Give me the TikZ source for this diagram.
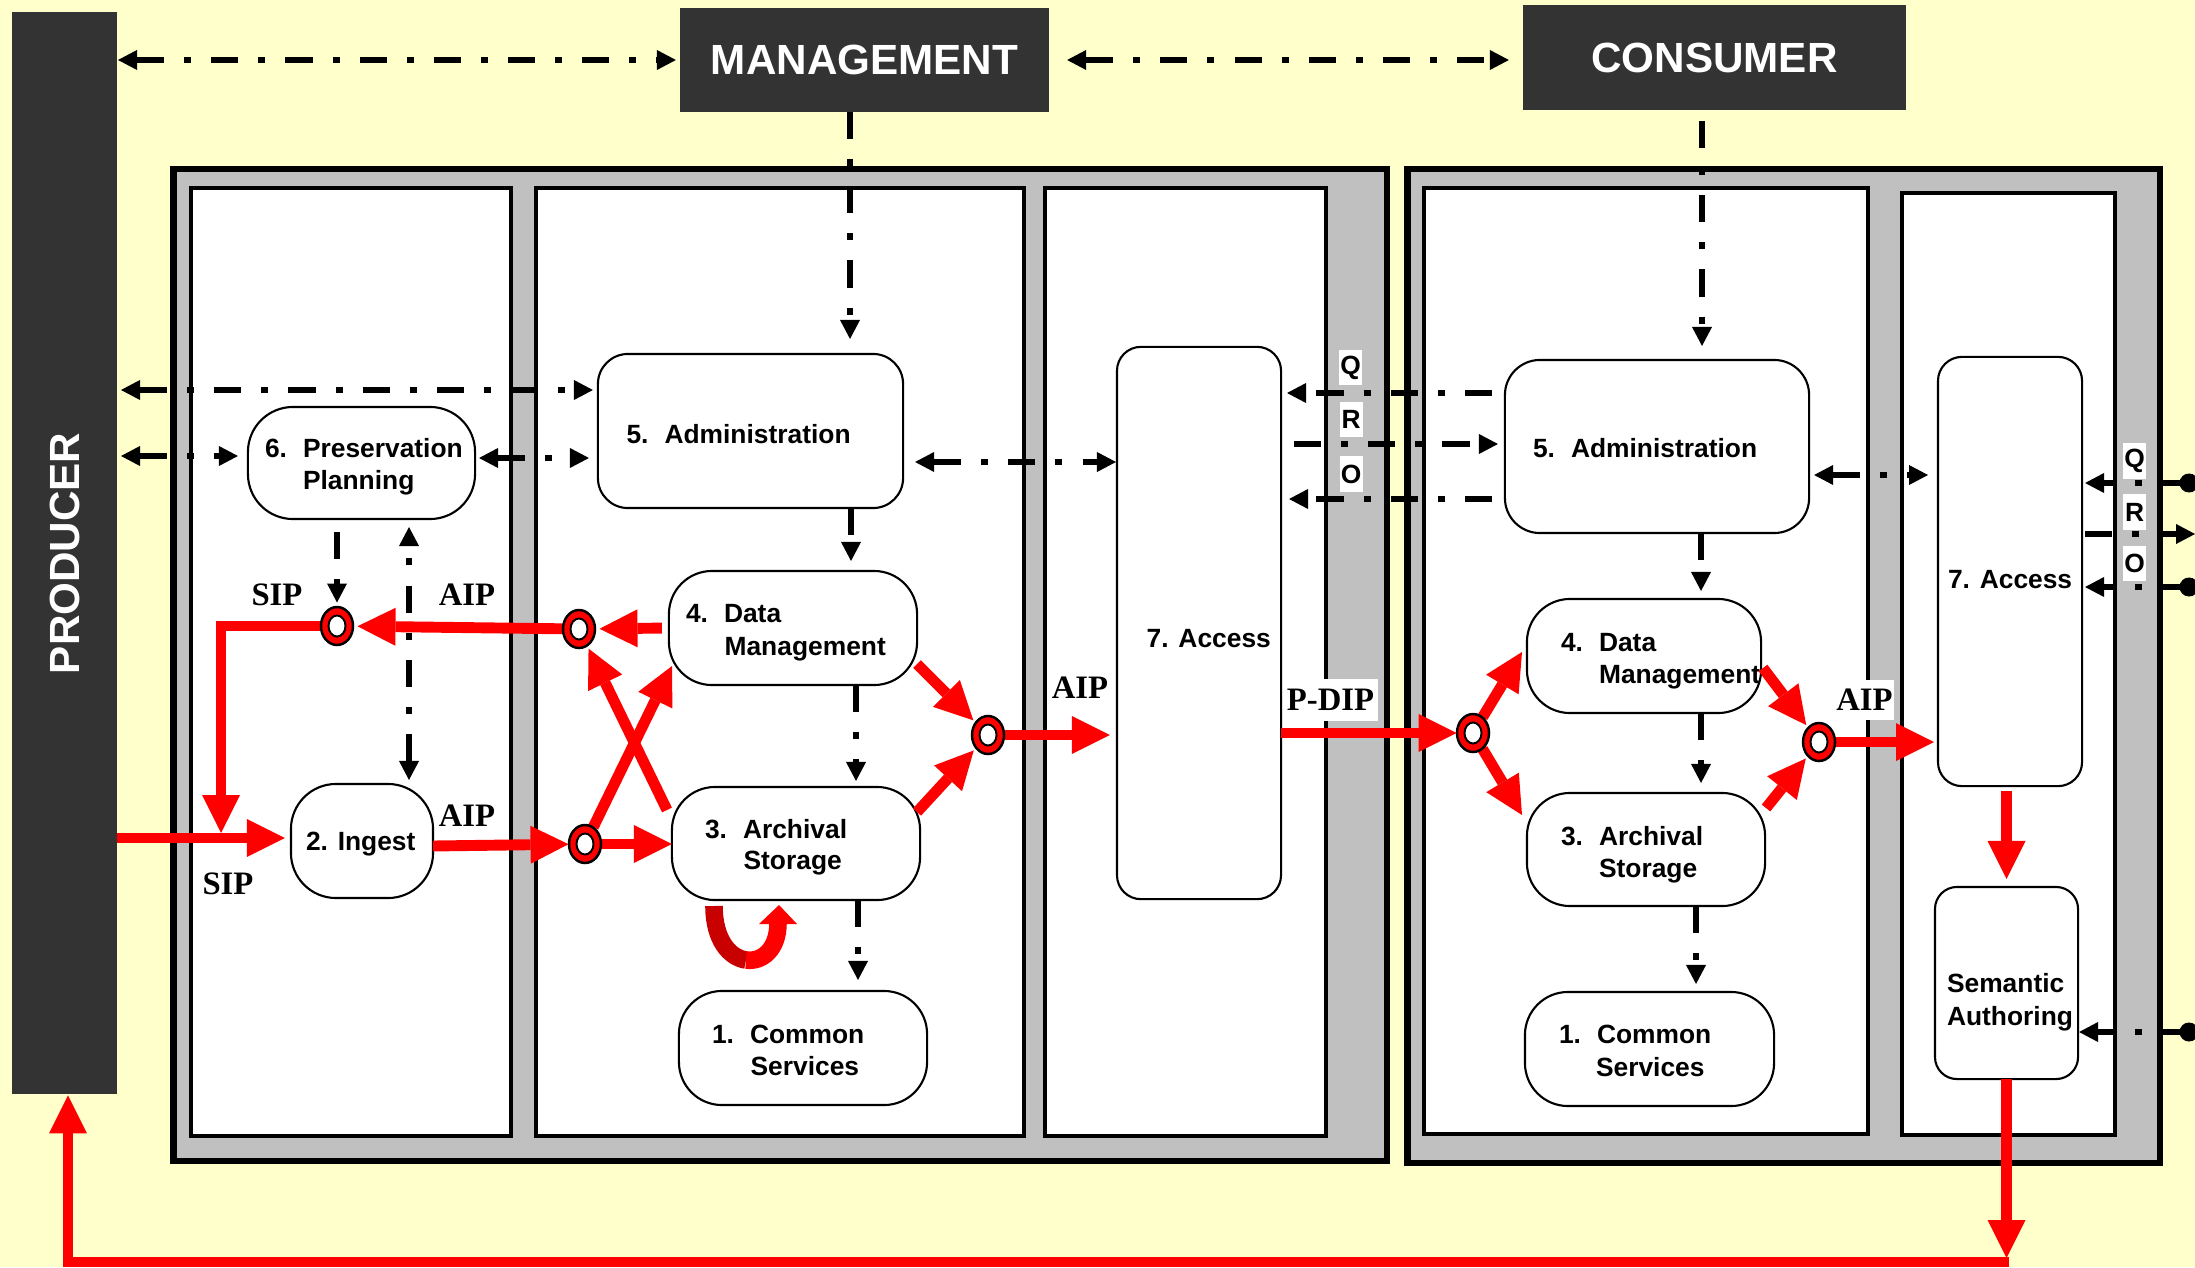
\documentclass[tikz,border=0pt]{standalone}
\usepackage{fontspec}
\setmainfont{Liberation Sans}
\newfontfamily\flowserif{Liberation Serif}
\usetikzlibrary{arrows.meta,shapes.geometric,calc}

\definecolor{bgyellow}{RGB}{255,255,204}
\definecolor{boxdark}{RGB}{51,51,51}
\definecolor{framegray}{RGB}{192,192,192}
\definecolor{udark}{RGB}{200,0,0}

\tikzset{
  actor/.style={fill=boxdark, draw=none, inner sep=0pt, outer sep=0pt, text=white,
    font=\fontsize{12pt}{14pt}\selectfont\bfseries},
  frame/.style={fill=framegray, draw=black, line width=1.85pt},
  panel/.style={fill=white, draw=black, line width=1.14pt},
  process/.style={draw=black, fill=white, line width=0.6pt, inner sep=0pt, outer sep=0pt},
  proctext/.style={font=\fontsize{7.5pt}{9pt}\selectfont\bfseries, inner sep=0pt, outer sep=0pt, anchor=base west},
  flowtag/.style={font=\fontsize{9.3pt}{11pt}\selectfont\flowserif\bfseries, inner sep=0pt},
  qro/.style={font=\fontsize{7.5pt}{9pt}\selectfont\bfseries, fill=white, inner sep=0pt,
    minimum width=0.23cm, minimum height=0.35cm},
  ctip/.tip={Triangle[length=5.4pt,width=5.7pt,line width=0pt]},
  dtip/.tip={Triangle[length=10.8pt,width=10.8pt,line width=0pt]},
  ctrl/.style={draw=black, line width=1.6pt, dash pattern=on 7.7pt off 5.7pt on 2pt off 5.7pt},
  ctlone/.style={ctrl, -ctip},
  ctltwo/.style={ctrl, ctip-ctip},
  data/.style={draw=red, line width=3.1pt, -dtip},
  junc/.style={ellipse, minimum width=0.33cm, minimum height=0.39cm, inner sep=0pt, outer sep=0pt}
}

% red junction ring with white core
\newcommand{\jndraw}[1]{%
  \draw[black, fill=red, line width=0.7pt] (#1.center) ellipse [x radius=0.16cm, y radius=0.19cm];
  \draw[black, fill=white, line width=0.55pt] (#1.center) ellipse [x radius=0.085cm, y radius=0.105cm];}

\begin{document}
\begin{tikzpicture}[x=0.01cm, y=-0.01cm]
\useasboundingbox (0,0) rectangle (2195,1267);
\fill[bgyellow] (0,0) rectangle (2195,1267);

% archive frames and functional columns
\draw[frame] (173.25,169.25) rectangle (1386.75,1160.75);
\draw[frame] (1407.25,169.25) rectangle (2159.75,1162.75);
\foreach \a/\b/\c/\d in {191/188/511/1136, 536/188/1024/1136, 1045/188/1326/1136,
                         1424/188/1868/1134, 1902/193/2115/1135}
  \draw[panel] (\a,\b) rectangle (\c,\d);

% external actors
\node[actor, minimum width=1.05cm, minimum height=10.815cm] (prod) at (64.5,553.3) {};
\node[actor, fill=none, rotate=90] (prod-t) at (prod.center) {PRODUCER};
\node[actor, minimum width=3.69cm, minimum height=1.04cm] (mgmt) at (864.5,60) {MANAGEMENT};
\node[actor, minimum width=3.83cm, minimum height=1.05cm] (cons) at (1714.5,57.5) {CONSUMER};

% functional entities
\node[process, minimum width=2.27cm, minimum height=1.12cm, rounded corners=0.45cm] (pp) at (361.5,463) {};
\node[process, minimum width=3.05cm, minimum height=1.54cm, rounded corners=0.30cm] (adm1) at (750.5,431) {};
\node[process, minimum width=2.48cm, minimum height=1.14cm, rounded corners=0.43cm] (dm1) at (793,628) {};
\node[process, minimum width=2.48cm, minimum height=1.13cm, rounded corners=0.43cm] (as1) at (796,843.5) {};
\node[process, minimum width=1.42cm, minimum height=1.14cm, rounded corners=0.45cm] (ing) at (362,841) {};
\node[process, minimum width=2.48cm, minimum height=1.14cm, rounded corners=0.43cm] (cs1) at (803,1048) {};
\node[process, minimum width=1.64cm, minimum height=5.52cm, rounded corners=0.24cm] (acc1) at (1199,623) {};
\node[process, minimum width=3.04cm, minimum height=1.73cm, rounded corners=0.35cm] (adm2) at (1657,446.5) {};
\node[process, minimum width=2.34cm, minimum height=1.14cm, rounded corners=0.43cm] (dm2) at (1644,656) {};
\node[process, minimum width=2.38cm, minimum height=1.13cm, rounded corners=0.43cm] (as2) at (1646,849.5) {};
\node[process, minimum width=2.49cm, minimum height=1.14cm, rounded corners=0.43cm] (cs2) at (1649.5,1049) {};
\node[process, minimum width=1.44cm, minimum height=4.29cm, rounded corners=0.24cm] (acc2) at (2010,571.5) {};
\node[process, minimum width=1.43cm, minimum height=1.92cm, rounded corners=0.22cm] (sa) at (2006.5,983) {};

% entity captions
\node[proctext] (pp-a) at (265,457) {\makebox[0.38cm][l]{6.}Preservation};
\node[proctext] (pp-b) at (303,489) {Planning};
\node[proctext] (adm1-a) at (626.5,443) {\makebox[0.38cm][l]{5.}Administration};
\node[proctext] (dm1-a) at (686,622) {\makebox[0.38cm][l]{4.}Data};
\node[proctext] (dm1-b) at (724.6,655) {Management};
\node[proctext] (as1-a) at (705,838) {\makebox[0.38cm][l]{3.}Archival};
\node[proctext] (as1-b) at (743.6,869) {Storage};
\node[proctext] (ing-a) at (306,850) {2. Ingest};
\node[proctext] (cs1-a) at (712,1043) {\makebox[0.38cm][l]{1.}Common};
\node[proctext] (cs1-b) at (750.6,1075) {Services};
\node[proctext] (acc1-a) at (1146.7,647) {7. Access};
\node[proctext] (adm2-a) at (1533,457) {\makebox[0.38cm][l]{5.}Administration};
\node[proctext] (dm2-a) at (1561,651) {\makebox[0.38cm][l]{4.}Data};
\node[proctext] (dm2-b) at (1599,683) {Management};
\node[proctext] (as2-a) at (1561,845) {\makebox[0.38cm][l]{3.}Archival};
\node[proctext] (as2-b) at (1599,877) {Storage};
\node[proctext] (cs2-a) at (1559,1043) {\makebox[0.38cm][l]{1.}Common};
\node[proctext] (cs2-b) at (1596,1076) {Services};
\node[proctext] (acc2-a) at (1948,588) {7. Access};
\node[proctext] (sa-a) at (1947,992) {Semantic};
\node[proctext] (sa-b) at (1947,1025) {Authoring};

% junction placeholders (rings are painted after the flows)
\node[junc] (c1) at (337,626) {};
\node[junc] (c2) at (579,629) {};
\node[junc] (c3) at (585,844) {};
\node[junc] (c4) at (988,735) {};
\node[junc] (c5) at (1473,733) {};
\node[junc] (c6) at (1819,742) {};

% control / management interfaces
\draw[ctltwo, shorten <=0.01cm, shorten >=0.04cm] (prod.east |- mgmt.west) -- (mgmt.west);
\draw[ctltwo, shorten <=0.18cm, shorten >=0.14cm] (mgmt.east) -- (cons.west |- mgmt.east);
\draw[ctlone, shorten >=0.15cm] (850,0 |- mgmt.south) -- (850,0 |- adm1.north);
\draw[ctlone, shorten <=0.11cm, shorten >=0.14cm] (1702,0 |- cons.south) -- (1702,0 |- adm2.north);
\draw[ctltwo, shorten <=0.04cm, shorten >=0.05cm] (prod.east |- 0,390) -- (adm1.west |- 0,390);
\draw[ctltwo, shorten <=0.04cm, shorten >=0.10cm] (prod.east |- 0,456) -- (pp.west |- 0,456);
\draw[ctltwo, shorten <=0.04cm, shorten >=0.09cm] (pp.east |- 0,458) -- (adm1.west |- 0,458);
\draw[ctltwo, shorten <=0.12cm, shorten >=0.01cm] (adm1.east |- 0,462) -- (acc1.west |- 0,462);
\draw[ctlone, shorten >=0.10cm] (851,0 |- adm1.south) -- (851,0 |- dm1.north);
\draw[ctlone, shorten >=0.06cm] (856,0 |- dm1.south) -- (856,0 |- as1.north);
\draw[ctlone, shorten >=0.11cm] (858,0 |- as1.south) -- (858,0 |- cs1.north);
\draw[ctlone, shorten <=0.13cm, shorten >=0.04cm] (337,0 |- pp.south) -- (c1);
\draw[ctltwo, shorten <=0.04cm, shorten >=0.08cm] (409,0 |- ing.north) -- (409,0 |- pp.south);
\draw[ctltwo, shorten <=0.05cm, shorten >=0.10cm] (adm2.east |- 0,475) -- (acc2.west |- 0,475);
\draw[ctlone, shorten >=0.08cm] (1701,0 |- adm2.south) -- (1701,0 |- dm2.north);
\draw[ctlone, shorten >=0.10cm] (1701,0 |- dm2.south) -- (1701,0 |- as2.north);
\draw[ctlone, shorten >=0.08cm] (1696,0 |- as2.south) -- (1696,0 |- cs2.north);
% query / result / order between the two archives
\draw[ctlone, shorten <=0.13cm, shorten >=0.06cm] (adm2.west |- 0,393) -- (acc1.east |- 0,393);
\draw[ctlone, shorten <=0.13cm, shorten >=0.07cm] (acc1.east |- 0,444) -- (adm2.west |- 0,444);
\draw[ctlone, shorten <=0.13cm, shorten >=0.08cm] (adm2.west |- 0,499) -- (acc1.east |- 0,499);
% outside links on the right
\coordinate (xq) at (2189,483);
\coordinate (xr) at (2195,534);
\coordinate (xo) at (2189,587);
\coordinate (xs) at (2189,1032);
\draw[ctlone, shorten >=0.03cm] (xq) -- (acc2.east |- xq);
\draw[ctlone, shorten <=0.03cm] (acc2.east |- xr) -- (xr);
\draw[ctlone, shorten >=0.03cm] (xo) -- (acc2.east |- xo);
\draw[ctlone, shorten >=0.01cm] (xs) -- (sa.east |- xs);
\foreach \p in {xq,xo,xs} \fill (\p) circle [radius=0.095cm];

% information package flows
\coordinate (sipin) at (221,838);
\draw[data, shorten >=0.06cm] (prod.east |- sipin) -- (ing.west |- sipin);
\draw[data, shorten >=0.05cm] (c1.west) -| (sipin);
\draw[data, shorten <=0.07cm, shorten >=0.04cm] (dm1.west) -- (c2);
\draw[data, shorten >=0.04cm] (c2) -- (c1);
\draw[data] (ing.east |- 0,846) -- (c3);
\draw[data] (c3) -- (as1.west |- c3);
\coordinate (dm1-in) at (672,666);
\draw[data] (c3) -- (dm1-in);
\coordinate (as1-out) at (667,810);
\draw[data, shorten >=0.03cm] (as1-out) -- (c2);
\coordinate (dm1-out) at (917,664);
\draw[data, shorten >=0.03cm] (dm1-out) -- (c4);
\coordinate (as1-out2) at (917,812);
\draw[data, shorten >=0.03cm] (as1-out2) -- (c4);
\draw[data, shorten >=0.07cm] (c4) -- (acc1.west |- c4);
\draw[data] (acc1.east |- c5) -- (c5);
\coordinate (dm2-in) at (1522,652);
\draw[data] (c5) -- (dm2-in);
\coordinate (as2-in) at (1522,815);
\draw[data] (c5) -- (as2-in);
\coordinate (dm2-out) at (1763,668);
\draw[data, shorten >=0.03cm] (dm2-out) -- (c6);
\coordinate (as2-out) at (1766,808);
\draw[data, shorten >=0.03cm] (as2-out) -- (c6);
\draw[data, shorten >=0.04cm] (c6) -- (acc2.west |- c6);
\draw[data, shorten <=0.05cm, shorten >=0.08cm] (sa.north |- acc2.south) -- (sa.north);
\coordinate (ret) at (2009,1262);
\coordinate (retl) at (68,1262);
\draw[data, shorten >=0.04cm] (sa.south) -- (sa.south |- ret);
\draw[data, shorten >=0.01cm] (ret) -- (retl) -- (retl |- prod.south);

% storage refresh loop under Archival Storage
\draw[udark, line width=5pt] (714,906) .. controls (714,940.5) and (730,957.75) .. (746,960);
\draw[red, line width=5pt] (746,960) .. controls (762,962.25) and (778,949.5) .. (778,923);
\fill[red] (759,924) -- (797,924) -- (779,905) -- cycle;

% junction rings
\foreach \j in {c1,c2,c3,c4,c5,c6} {\jndraw{\j}}

% package labels
\node[flowtag] (sip1) at (277,595) {SIP};
\node[flowtag] (aip1) at (467,595) {AIP};
\node[flowtag] (aip2) at (467,816) {AIP};
\node[flowtag] (sip2) at (228,884) {SIP};
\node[flowtag] (aip3) at (1080,688) {AIP};
\node[flowtag, fill=white, minimum width=0.95cm, minimum height=0.42cm] (pdip) at (1330.5,700) {P-DIP};
\node[flowtag, fill=white, minimum width=0.59cm, minimum height=0.40cm] (aip4) at (1864.5,700) {AIP};

% query / result / order tags
\node[qro] (q1) at (1350.5,367.5) {Q};
\node[qro] (r1) at (1351,419.5) {R};
\node[qro] (o1) at (1351,474) {O};
\node[qro] (q2) at (2134.5,461) {Q};
\node[qro] (r2) at (2134.5,512) {R};
\node[qro] (o2) at (2134.5,563.5) {O};
\end{tikzpicture}
\end{document}
